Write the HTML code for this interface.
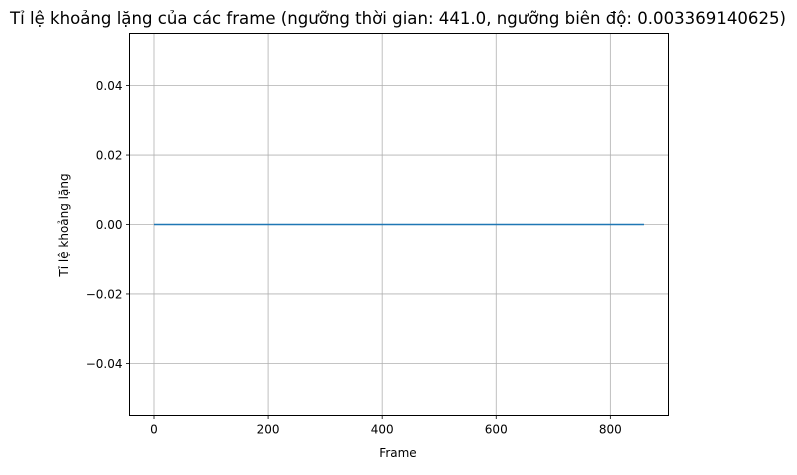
<!DOCTYPE html>
<html><head><meta charset="utf-8"><style>
body{margin:0;background:#fff}
svg{font-family:"DejaVu Sans","Liberation Sans",sans-serif}
</style></head><body>
<svg id="chart" width="797" height="470" viewBox="0 0 797 470" xmlns="http://www.w3.org/2000/svg">
<rect width="797" height="470" fill="#fff"/>
<g id="grid"></g>
<g id="series"></g>
<rect x="129.5" y="33.5" width="539" height="382" fill="none" stroke="#000" stroke-width="1"/>
<g id="ticks" font-size="12"></g>
<text x="398" y="24" font-size="16.5" text-anchor="middle" textLength="776" lengthAdjust="spacingAndGlyphs">Tỉ lệ khoảng lặng của các frame (ngưỡng thời gian: 441.0, ngưỡng biên độ: 0.003369140625)</text>
<text x="398" y="457" font-size="12" text-anchor="middle">Frame</text>
<text transform="translate(68,225) rotate(-90)" font-size="12" text-anchor="middle">Tỉ lệ khoảng lặng</text>
</svg>
<script>
const frames = [0, 859];
const ratios = [0, 0];
const xTicks = [0, 200, 400, 600, 800];
const yTicks = [0.04, 0.02, 0.00, -0.02, -0.04];
const yTickLabels = ["0.04", "0.02", "0.00", "\u22120.02", "\u22120.04"];

const L=129.5,R=668.5,T=33.5,B=415.5;
const xmin=-0.05*859, xmax=859*1.05, ymin=-0.055, ymax=0.055;
const xs=v=>L+(v-xmin)/(xmax-xmin)*(R-L);
const ys=v=>B-(v-ymin)/(ymax-ymin)*(B-T);
const NS="http://www.w3.org/2000/svg";
function mk(tag,attrs,parent){const e=document.createElementNS(NS,tag);for(const k in attrs)e.setAttribute(k,attrs[k]);parent.appendChild(e);return e;}
const grid=document.getElementById('grid'),ticks=document.getElementById('ticks'),series=document.getElementById('series');
xTicks.forEach(v=>{
  const x=xs(v);
  const g=mk('line',{x1:x,x2:x,y1:T,y2:B,stroke:'#b0b0b0','stroke-width':0.8},grid);
  
  
  const t=mk('line',{x1:x,x2:x,y1:B,y2:B+3.5,stroke:'#000','stroke-width':0.8},ticks);
  
  
  const l=mk('text',{x:x,y:B+18,'text-anchor':'middle'},ticks);
  l.textContent=v;
  
  
});
yTicks.forEach((v,i)=>{
  const y=ys(v);
  const g=mk('line',{x1:L,x2:R,y1:y,y2:y,stroke:'#b0b0b0','stroke-width':0.8},grid);
  
  
  const t=mk('line',{x1:L-3.5,x2:L,y1:y,y2:y,stroke:'#000','stroke-width':0.8},ticks);
  
  
  const l=mk('text',{x:L-7,y:y+4.5,'text-anchor':'end'},ticks);
  l.textContent=yTickLabels[i];
  
  
});
const pts=frames.map((f,i)=>xs(f)+','+ys(ratios[i])).join(' ');
const line=mk('polyline',{points:pts,fill:'none',stroke:'#1f77b4','stroke-width':1.5},series);


</script>
</body></html>
